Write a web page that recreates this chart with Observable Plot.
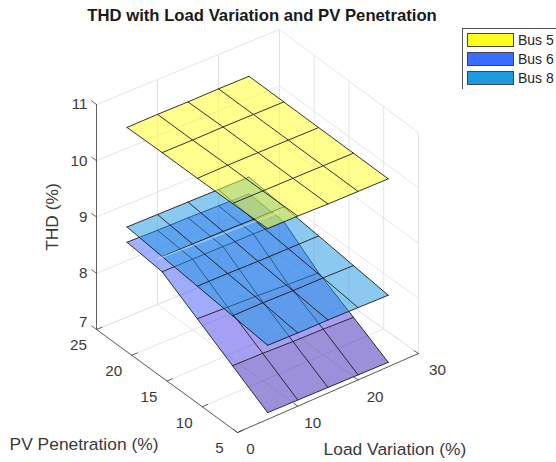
<!DOCTYPE html>
<html>
<head>
<meta charset="utf-8">
<script src="https://cdn.jsdelivr.net/npm/d3@7"></script>
<script src="https://cdn.jsdelivr.net/npm/@observablehq/plot@0.6"></script>
<style>
html,body{margin:0;padding:0;background:#fff;width:556px;height:462px;overflow:hidden;font-family:"Liberation Sans",Arial,sans-serif;color:#262626}
#chart{position:absolute;left:0;top:0}
#title{position:absolute;left:0;width:524px;top:6px;text-align:center;font-weight:bold;font-size:16.7px;line-height:20px;color:#1a1a1a;white-space:nowrap}
#legend{position:absolute;left:462px;top:28px;width:94px;height:61px;box-sizing:border-box;border-top:1px solid #555;border-left:1px solid #555;overflow:hidden}
.row{position:absolute;left:4px;height:14px;width:90px;font-size:14px;line-height:14px;white-space:nowrap}
.sw{position:absolute;left:0;top:0;width:47px;height:14px;box-sizing:border-box;border:1px solid #444}
.row span{position:absolute;left:51px;top:0}
</style>
</head>
<body>
<div id="chart"></div>
<div id="title"></div>
<div id="legend"></div>
<script>
// ---- data ----
const titleText = "THD with Load Variation and PV Penetration";
const loadValues = [5, 10, 15, 20, 25];
const pvValues = [25, 20, 15, 10, 5];
const bus5 = [
  [10.37, 10.38, 10.38, 10.39, 10.39],
  [10.38, 10.38, 10.39, 10.39, 10.39],
  [10.38, 10.39, 10.39, 10.39, 10.39],
  [10.39, 10.39, 10.39, 10.39, 10.39],
  [10.40, 10.40, 10.39, 10.39, 10.39]
];
const bus6 = [
  [8.33, 8.32, 8.32, 8.31, 8.30],
  [8.26, 8.26, 8.26, 8.26, 8.255],
  [7.88, 7.86, 7.84, 7.81, 7.79],
  [7.50, 7.49, 7.47, 7.46, 7.44],
  [7.12, 7.11, 7.10, 7.09, 7.08]
];
const bus8 = [
  [8.60, 8.60, 8.60, 8.60, 8.60],
  [8.53, 8.53, 8.53, 8.52, 8.52],
  [8.46, 8.46, 8.45, 8.45, 8.45],
  [8.39, 8.39, 8.38, 8.38, 8.37],
  [8.32, 8.31, 8.31, 8.30, 8.29]
];
const loadTicks = [0, 10, 20, 30];
const pvTicks = [5, 10, 15, 20, 25];
const zTicks = [7, 8, 9, 10, 11];
const seriesNames = ["Bus 5", "Bus 6", "Bus 8"];
const legendColors = ["#ffff1e", "#3a6cff", "#1e9be0"];
const bus5RowColors = ["#ffff1e", "#ffff1e", "#ffff1e", "#ffff1e"];
const bus6RowColors = ["#4266ff", "#4457f8", "#4e42ea", "#3b22b8"];
const bus8RowColors = ["#1a93e2", "#1a93e2", "#1a93e2", "#1a93e2"];

// ---- fixed MATLAB-style view with slight perspective: 3D data -> flat plot coordinates ----
const view = {x0: 237, y0: 432, xL: 6.1, xLp: 0.07, yL: 2.5, yLp: 0.13, xP: 7.05, yP: 5.15, yZ: 56.25};
const px = (L, P) => view.x0 + (view.xL - view.xLp * (25 - P) / 20) * L - view.xP * (P - 5);
const py = (L, P, Z) => view.y0 - view.yL * L - view.yLp * L * ((25 - P) / 20) * ((11 - Z) / 4) - view.yP * (P - 5) - view.yZ * (Z - 7);
const pt = (L, P, Z, id) => ({x: px(L, P), y: py(L, P, Z), id});

function cells(grid, rowColors, name) {
  const out = [];
  for (let r = 0; r < pvValues.length - 1; r++) {
    for (let c = 0; c < loadValues.length - 1; c++) {
      const id = `${name}-${r}-${c}`, fill = rowColors[r];
      const ring = [[r, c], [r, c + 1], [r + 1, c + 1], [r + 1, c]];
      for (const [i, j] of ring) out.push({...pt(loadValues[j], pvValues[i], grid[i][j], id), fill});
    }
  }
  return out;
}
function wires(grid, name) {
  const out = [];
  pvValues.forEach((P, i) => loadValues.forEach((L, j) => out.push(pt(L, P, grid[i][j], `${name}-r${i}`))));
  loadValues.forEach((L, j) => pvValues.forEach((P, i) => out.push(pt(L, P, grid[i][j], `${name}-c${j}`))));
  return out;
}
const segments = (list) => list.flatMap((s, i) => [pt(...s[0], i), pt(...s[1], i)]);

const L0 = 0, L1 = 30, P0 = 5, P1 = 25, Z0 = 7, Z1 = 11;
const gridSegs = segments([
  ...loadTicks.map(L => [[L, P1, Z0], [L, P1, Z1]]),
  ...pvTicks.map(P => [[L1, P, Z0], [L1, P, Z1]]),
  ...zTicks.map(Z => [[L0, P1, Z], [L1, P1, Z]]),
  ...zTicks.map(Z => [[L1, P0, Z], [L1, P1, Z]]),
  ...loadTicks.map(L => [[L, P0, Z0], [L, P1, Z0]]),
  ...pvTicks.map(P => [[L0, P, Z0], [L1, P, Z0]])
]);
const axisSegs = segments([
  [[L0, P0, Z0], [L1, P0, Z0]],
  [[L0, P0, Z0], [L0, P1, Z0]],
  [[L0, P1, Z0], [L0, P1, Z1]],
  ...loadTicks.map(L => [[L, P0, Z0], [L, P0 + 0.55, Z0]]),
  ...pvTicks.map(P => [[L0, P, Z0], [L0 + 0.9, P, Z0]]),
  ...zTicks.map(Z => [[L0, P1, Z], [L0, P1 + 0.7, Z]])
]);
const streak = segments([[[10, P1, 7.81], [30, P1, 7.755]]]);

const textStyle = {fontFamily: '"Liberation Sans",Arial,sans-serif', fontSize: 15.2, fill: "#3a3a3a"};
const line = (data, opts) => Plot.line(data, {x: "x", y: "y", z: "id", ...opts});
const surface = (grid, colors, name) => [
  line(cells(grid, colors, name), {fill: "fill", stroke: "none", fillOpacity: 0.5}),
  line(wires(grid, name), {stroke: "#111", strokeWidth: 0.85})
];

const svg = Plot.plot({
  width: 556, height: 462,
  marginTop: 0, marginRight: 0, marginBottom: 0, marginLeft: 0,
  x: {domain: [0, 556], range: [0, 556], axis: null},
  y: {domain: [0, 462], range: [0, 462], axis: null},
  color: {type: "identity"},
  style: {background: "transparent", overflow: "visible"},
  marks: [
    line(gridSegs, {stroke: "#e2e2e2", strokeWidth: 0.9}),
    line(axisSegs, {stroke: "#3c3c3c", strokeWidth: 0.8}),
    ...surface(bus6, bus6RowColors, "bus6"),
    ...surface(bus8, bus8RowColors, "bus8"),
    line(streak, {stroke: "#c4e6ff", strokeWidth: 1.5, strokeOpacity: 0.6}),
    ...surface(bus5, bus5RowColors, "bus5"),
    Plot.text(loadTicks, {x: L => px(L, P0) + 13 + 0.2 * L, y: L => py(L, P0, Z0), text: d => String(d), dy: 17, ...textStyle}),
    Plot.text(pvTicks, {x: P => px(L0, P), y: P => py(L0, P, Z0), text: d => String(d), dx: -18, dy: 16, ...textStyle}),
    Plot.text(zTicks.slice(1), {x: () => px(L0, P1), y: Z => py(L0, P1, Z), text: d => String(d), dx: -9, textAnchor: "end", ...textStyle}),
    Plot.text(zTicks.slice(0, 1), {x: () => px(L0, P1), y: Z => py(L0, P1, Z), text: d => String(d), dx: -9, dy: -7, textAnchor: "end", ...textStyle}),
    Plot.text(["Load Variation (%)"], {x: () => px(15, P0), y: () => py(15, P0, Z0), text: d => d, dx: 67, dy: 56, ...textStyle, fontSize: 17.4}),
    Plot.text(["PV Penetration (%)"], {x: () => px(L0, 15), y: () => py(L0, 15, Z0), text: d => d, dx: -83, dy: 63.5, ...textStyle, fontSize: 17.4}),
    Plot.text(["THD (%)"], {x: () => px(L0, P1), y: () => py(L0, P1, 9), text: d => d, dx: -44, rotate: -90, ...textStyle, fontSize: 17.4})
  ]
});
document.getElementById("chart").appendChild(svg);
document.getElementById("title").textContent = titleText;

const legend = document.getElementById("legend");
seriesNames.forEach((name, i) => {
  const row = document.createElement("div");
  row.className = "row";
  row.style.top = (4 + i * 19) + "px";
  const sw = document.createElement("div");
  sw.className = "sw";
  sw.style.background = legendColors[i];
  const label = document.createElement("span");
  label.textContent = name;
  row.append(sw, label);
  legend.append(row);
});
</script>
</body>
</html>
